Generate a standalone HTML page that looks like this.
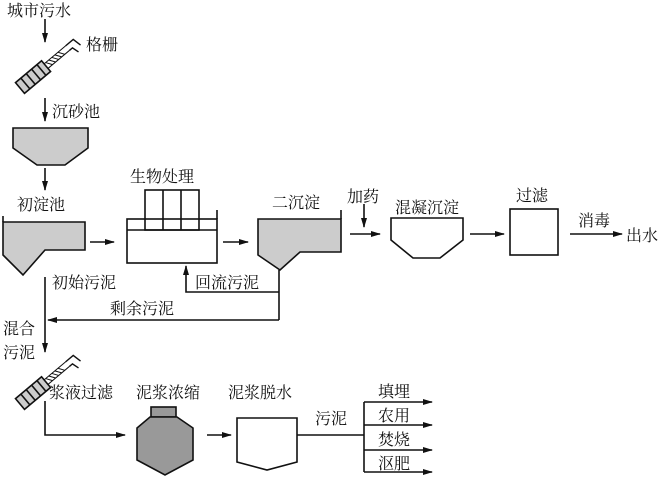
<!DOCTYPE html>
<html><head><meta charset="utf-8"><style>
body{margin:0;background:#fff}
svg text{font-family:"Liberation Serif","Noto Serif CJK SC",serif;font-size:16px;fill:#111}
</style></head><body>
<svg width="666" height="477" viewBox="0 0 666 477" xmlns="http://www.w3.org/2000/svg">
<defs><marker id="a" markerWidth="10" markerHeight="8" refX="9" refY="4" orient="auto" markerUnits="userSpaceOnUse"><path d="M0,1 L10,4 L0,7 Z" fill="#111"/></marker></defs>
<g stroke="#111" stroke-width="1.6" fill="none">
<!-- top -->
<line x1="45" y1="19" x2="45" y2="42" marker-end="url(#a)"/>
<g transform="translate(20,88) rotate(-40)">
<rect x="0" y="-7" width="34" height="14" fill="#ccc"/>
<line x1="7" y1="-7" x2="7" y2="7"/><line x1="14" y1="-7" x2="14" y2="7"/><line x1="21" y1="-7" x2="21" y2="7"/><line x1="28" y1="-7" x2="28" y2="7"/>
<path d="M34,-3 L62,-3 M34,3 L62,3 M36,-3 L40,3 M40,-3 L44,3 M44,-3 L48,3 M48,-3 L52,3 M52,-3 L56,3" stroke-width="1"/>
<path d="M62,-3 L72,-3 L74,6 M62,3 L66,3 L68,10" stroke-width="1.4"/>
</g>
<line x1="45" y1="98" x2="45" y2="121" marker-end="url(#a)"/>
<path d="M13,128 L88,128 L88,148 L65,165 L37,165 L13,148 Z" fill="#ccc"/>
<line x1="45" y1="168" x2="45" y2="190" marker-end="url(#a)"/>
<path d="M3,222 L85,222 L85,250 L45,250 L23,275 L3,255 Z" fill="#ccc"/>
<line x1="3" y1="216" x2="3" y2="222"/>
<line x1="90" y1="242" x2="114" y2="242" marker-end="url(#a)"/>
<rect x="127" y="219" width="90" height="44"/>
<line x1="127" y1="230" x2="217" y2="230"/>
<line x1="217" y1="210" x2="217" y2="219"/>
<rect x="145" y="190" width="54" height="40"/>
<line x1="163" y1="190" x2="163" y2="230"/><line x1="181" y1="190" x2="181" y2="230"/>
<line x1="223" y1="242" x2="248" y2="242" marker-end="url(#a)"/>
<path d="M258,219 L341,219 L341,252 L300,252 L280,270 L258,255 Z" fill="#ccc"/>
<line x1="341" y1="210" x2="341" y2="219"/>
<line x1="364" y1="204" x2="364" y2="227" marker-end="url(#a)"/>
<line x1="350" y1="234" x2="380" y2="234" marker-end="url(#a)"/>
<path d="M391,218 L463,218 L463,240 L440,258 L413,258 L391,240 Z"/>
<line x1="470" y1="234" x2="504" y2="234" marker-end="url(#a)"/>
<rect x="510" y="209" width="48" height="46"/>
<line x1="570" y1="234" x2="622" y2="234" marker-end="url(#a)"/>
<!-- middle -->
<line x1="45" y1="277" x2="45" y2="352" marker-end="url(#a)"/>
<line x1="279" y1="270" x2="279" y2="320"/>
<polyline points="279,292 186,292 186,266" marker-end="url(#a)"/>
<line x1="279" y1="320" x2="48" y2="320" marker-end="url(#a)"/>
<!-- bottom -->
<g transform="translate(20,404) rotate(-40)">
<rect x="0" y="-7" width="34" height="14" fill="#ccc"/>
<line x1="7" y1="-7" x2="7" y2="7"/><line x1="14" y1="-7" x2="14" y2="7"/><line x1="21" y1="-7" x2="21" y2="7"/><line x1="28" y1="-7" x2="28" y2="7"/>
<path d="M34,-3 L62,-3 M34,3 L62,3 M36,-3 L40,3 M40,-3 L44,3 M44,-3 L48,3 M48,-3 L52,3 M52,-3 L56,3" stroke-width="1"/>
<path d="M62,-3 L72,-3 L74,6 M62,3 L66,3 L68,10" stroke-width="1.4"/>
</g>
<polyline points="45,401 45,435 125,435" marker-end="url(#a)"/>
<rect x="151" y="407" width="25" height="10" fill="#999"/>
<path d="M150,417 L177,417 L193,428 L193,460 L165,475 L137,460 L137,428 Z" fill="#999"/>
<line x1="207" y1="435" x2="231" y2="435" marker-end="url(#a)"/>
<path d="M237,418 L297,418 L297,462 L267,470 L237,462 Z"/>
<line x1="297" y1="435" x2="364" y2="435"/>
<line x1="364" y1="402" x2="364" y2="472"/>
<line x1="364" y1="402" x2="432" y2="402" marker-end="url(#a)"/>
<line x1="364" y1="425" x2="432" y2="425" marker-end="url(#a)"/>
<line x1="364" y1="450" x2="432" y2="450" marker-end="url(#a)"/>
<line x1="364" y1="472" x2="432" y2="472" marker-end="url(#a)"/>
</g>
<text x="7" y="16">城市污水</text>
<text x="86" y="50">格栅</text>
<text x="52" y="117">沉砂池</text>
<text x="17" y="210">初淀池</text>
<text x="130" y="182">生物处理</text>
<text x="272" y="208">二沉淀</text>
<text x="347" y="202">加药</text>
<text x="395" y="213">混凝沉淀</text>
<text x="516" y="201">过滤</text>
<text x="578" y="226">消毒</text>
<text x="626" y="241">出水</text>
<text x="52" y="288">初始污泥</text>
<text x="195" y="288">回流污泥</text>
<text x="110" y="314">剩余污泥</text>
<text x="3" y="334">混合</text>
<text x="3" y="358">污泥</text>
<text x="49" y="398">浆液过滤</text>
<text x="136" y="398">泥浆浓缩</text>
<text x="228" y="398">泥浆脱水</text>
<text x="315" y="424">污泥</text>
<text x="378" y="397">填埋</text>
<text x="378" y="421">农用</text>
<text x="378" y="445">焚烧</text>
<text x="378" y="469">沤肥</text>
</svg>
</body></html>
